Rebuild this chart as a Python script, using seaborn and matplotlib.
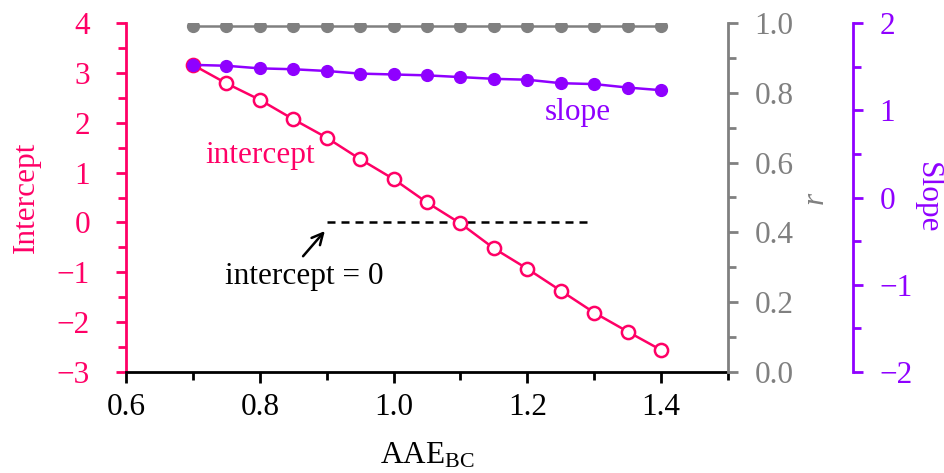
import numpy as np
import pandas as pd
import seaborn as sns
import matplotlib
matplotlib.use("Agg")
import matplotlib.pyplot as plt
from matplotlib.ticker import MultipleLocator

# ---- data ----
aae_bc = [0.70, 0.75, 0.80, 0.85, 0.90, 0.95, 1.00, 1.05, 1.10, 1.15, 1.20, 1.25, 1.30, 1.35, 1.40]
intercept = [3.16, 2.79, 2.46, 2.07, 1.70, 1.27, 0.87, 0.40, -0.02, -0.52, -0.93, -1.37, -1.81, -2.19, -2.56]
slope = [1.52, 1.51, 1.48, 1.47, 1.45, 1.42, 1.41, 1.40, 1.38, 1.36, 1.35, 1.31, 1.30, 1.26, 1.23]
r_vals = [0.99] * 15

x_ticks = [0.6, 0.8, 1.0, 1.2, 1.4]
int_ticks = [-3, -2, -1, 0, 1, 2, 3, 4]
r_ticks = [0.0, 0.2, 0.4, 0.6, 0.8, 1.0]
slope_ticks = [-2, -1, 0, 1, 2]

df = pd.DataFrame({"x": aae_bc, "intercept": intercept, "slope": slope, "r": r_vals})

PINK = "#FF0066"
PURPLE = "#8F00FF"
GRAY = "#808080"

sns.set_style("ticks")
plt.rcParams["font.family"] = ["Liberation Serif", "DejaVu Serif"]
plt.rcParams["mathtext.fontset"] = "custom"
plt.rcParams["mathtext.rm"] = "Liberation Serif"
plt.rcParams["mathtext.it"] = "Liberation Serif:italic"
plt.rcParams["axes.unicode_minus"] = True

FS = 22.5
LW = 1.8
SW = 2.0

fig = plt.figure(figsize=(9.44, 4.73), dpi=100)
ax = fig.add_axes([126/944, 1-372/473, (728-126)/944, (372-23)/473])
ax_r = ax.twinx()
ax_s = ax.twinx()

# intercept (left)
sns.lineplot(data=df, x="x", y="intercept", ax=ax, color=PINK, lw=LW,
             marker="o", markersize=9.5, markerfacecolor="white",
             markeredgecolor=PINK, markeredgewidth=1.8, zorder=3)
# r (gray right)
sns.lineplot(data=df, x="x", y="r", ax=ax_r, color=GRAY, lw=LW,
             marker="o", markersize=8.5, markerfacecolor=GRAY,
             markeredgecolor=GRAY, markeredgewidth=1.0, zorder=3)
# slope (purple offset right)
sns.lineplot(data=df, x="x", y="slope", ax=ax_s, color=PURPLE, lw=LW,
             marker="o", markersize=8.5, markerfacecolor=PURPLE,
             markeredgecolor=PURPLE, markeredgewidth=1.0, zorder=3)

ax.set_xlim(0.6, 1.5)
ax.set_ylim(-3, 4)
ax_r.set_ylim(0, 1.0)
ax_s.set_ylim(-2, 2)

ax.set_xticks(x_ticks)
ax.set_xticklabels([f"{v:.1f}" for v in x_ticks])
ax.xaxis.set_minor_locator(MultipleLocator(0.1))
ax.set_yticks(int_ticks)
ax.set_yticklabels([str(v).replace("-", "\u2212") for v in int_ticks])
ax.yaxis.set_minor_locator(MultipleLocator(0.5))
ax_r.set_yticks(r_ticks)
ax_r.set_yticklabels([f"{v:.1f}" for v in r_ticks])
ax_r.yaxis.set_minor_locator(MultipleLocator(0.1))
ax_s.set_yticks(slope_ticks)
ax_s.set_yticklabels([str(v).replace("-", "\u2212") for v in slope_ticks])
ax_s.yaxis.set_minor_locator(MultipleLocator(0.5))

# spines
for a in (ax, ax_r, ax_s):
    a.spines["top"].set_visible(False)
ax.spines["right"].set_visible(False)
ax.spines["left"].set_color(PINK)
ax.spines["left"].set_linewidth(SW)
ax.spines["bottom"].set_color("black")
ax.spines["bottom"].set_linewidth(SW)
ax_r.spines["left"].set_visible(False)
ax_r.spines["bottom"].set_visible(False)
ax_r.spines["right"].set_color(GRAY)
ax_r.spines["right"].set_linewidth(SW)
ax_s.spines["left"].set_visible(False)
ax_s.spines["bottom"].set_visible(False)
ax_s.spines["right"].set_position(("axes", 1 + 125/602))
ax_s.spines["right"].set_color(PURPLE)
ax_s.spines["right"].set_linewidth(SW)

ax.tick_params(axis="x", which="major", direction="out", length=8, width=SW, colors="black", labelsize=FS, pad=7)
ax.tick_params(axis="x", which="minor", direction="out", length=5.5, width=SW, colors="black")
ax.tick_params(axis="y", which="major", direction="out", length=7, width=SW, colors=PINK, labelsize=FS, pad=19)
ax.tick_params(axis="y", which="minor", direction="out", length=5.5, width=SW, colors=PINK)
ax_r.tick_params(axis="y", which="major", direction="out", length=7, width=SW, colors=GRAY, labelsize=FS, pad=12)
ax_r.tick_params(axis="y", which="minor", direction="out", length=6, width=SW, colors=GRAY)
ax_s.tick_params(axis="y", which="major", direction="out", length=7, width=SW, colors=PURPLE, labelsize=FS, pad=12)
ax_s.tick_params(axis="y", which="minor", direction="out", length=5.5, width=SW, colors=PURPLE)

ax.set_xlabel(r"AAE$_{\mathrm{BC}}$", fontsize=FS, color="black", labelpad=14)
ax.set_ylabel("Intercept", fontsize=FS, color=PINK, labelpad=11)
ax_r.set_ylabel("r", fontsize=FS, color=GRAY, style="italic", rotation=90, labelpad=5)
ax_s.set_ylabel("Slope", fontsize=FS, color=PURPLE, rotation=270, labelpad=21)

# annotations
ax.text(0.80, 1.35, "intercept", color=PINK, fontsize=FS, ha="center", va="center")
ax.text(1.275, 2.21, "slope", color=PURPLE, fontsize=FS, ha="center", va="center")
ax.plot([0.9, 1.29], [0, 0], ls=(0, (3.2, 2.4)), color="black", lw=LW, zorder=2)
ax.annotate("", xy=(0.9, -0.13), xytext=(0.862, -0.72),
            arrowprops=dict(arrowstyle="->", color="black", lw=LW, mutation_scale=20))
ax.text(0.866, -1.09, "intercept = 0", color="black", fontsize=FS, ha="center", va="center")

ax_s.set_zorder(3)
ax_r.set_zorder(2)
ax.set_zorder(1)
ax_s.patch.set_visible(False)
ax_r.patch.set_visible(False)

fig.savefig("out.png", dpi=100)
